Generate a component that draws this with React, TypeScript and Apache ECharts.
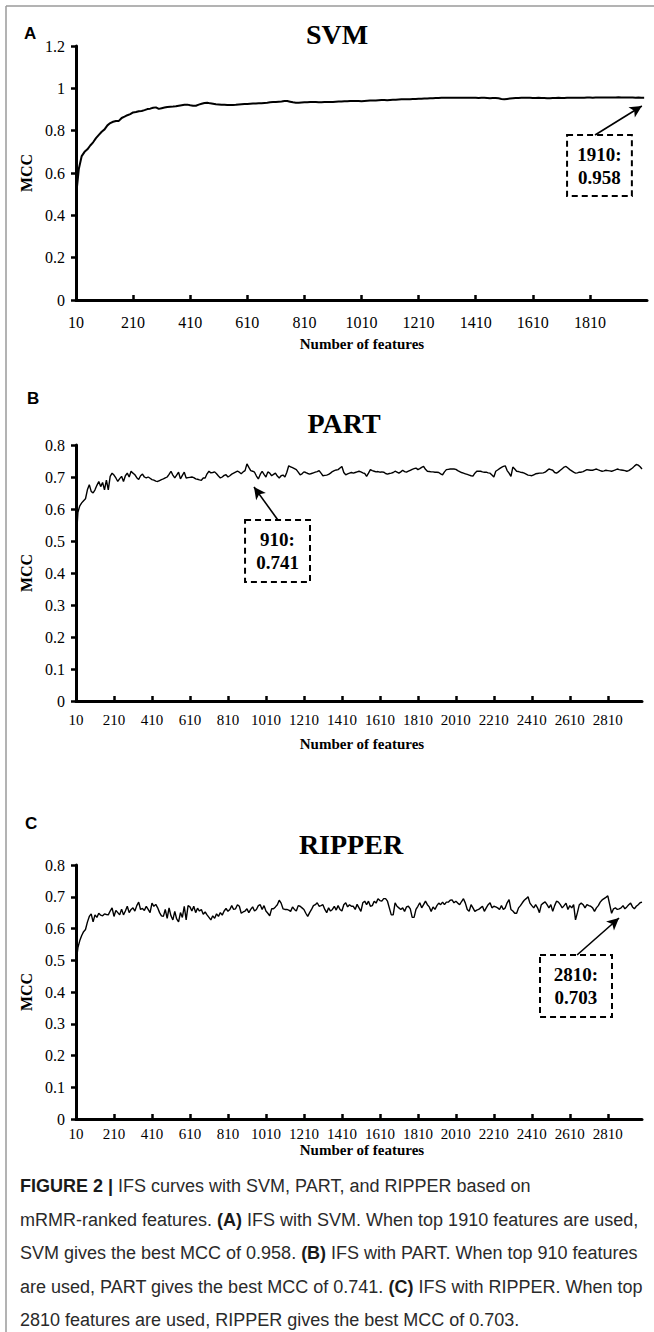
import React, { useEffect, useRef } from "react";
import * as echarts from "echarts";

// ---- Data ----
// MCC for SVM, feature counts 10, 20, ..., 2000
const svmMCC = [
  0.49, 0.62, 0.68, 0.70, 0.712, 0.73, 0.745, 0.765, 0.78, 0.795,
  0.806, 0.825, 0.836, 0.842, 0.846, 0.846, 0.86, 0.866, 0.873, 0.878,
  0.886, 0.888, 0.892, 0.893, 0.897, 0.902, 0.904, 0.908, 0.91, 0.903,
  0.906, 0.909, 0.912, 0.913, 0.914, 0.915, 0.918, 0.92, 0.922, 0.923,
  0.92, 0.918, 0.918, 0.923, 0.927, 0.931, 0.932, 0.929, 0.927, 0.925,
  0.924, 0.923, 0.922, 0.921, 0.921, 0.921, 0.922, 0.924, 0.925, 0.926,
  0.926, 0.927, 0.928, 0.928, 0.929, 0.93, 0.931, 0.932, 0.934, 0.935,
  0.936, 0.937, 0.938, 0.94, 0.94, 0.937, 0.934, 0.932, 0.932, 0.933,
  0.934, 0.934, 0.935, 0.935, 0.935, 0.934, 0.934, 0.935, 0.935, 0.935,
  0.936, 0.937, 0.938, 0.938, 0.939, 0.939, 0.94, 0.94, 0.94, 0.94,
  0.939, 0.94, 0.941, 0.942, 0.942, 0.943, 0.944, 0.945, 0.945, 0.944,
  0.945, 0.946, 0.946, 0.947, 0.948, 0.948, 0.949, 0.949, 0.95, 0.95,
  0.951, 0.951, 0.952, 0.952, 0.953, 0.953, 0.954, 0.954, 0.955, 0.955,
  0.955, 0.956, 0.956, 0.956, 0.955, 0.956, 0.955, 0.956, 0.956, 0.955,
  0.955, 0.954, 0.955, 0.955, 0.954, 0.953, 0.954, 0.954, 0.953, 0.95,
  0.948, 0.95, 0.952, 0.953, 0.954, 0.954, 0.955, 0.955, 0.955, 0.955,
  0.954, 0.954, 0.955, 0.954, 0.954, 0.953, 0.953, 0.954, 0.954, 0.955,
  0.954, 0.954, 0.955, 0.955, 0.956, 0.955, 0.955, 0.956, 0.956, 0.957,
  0.957, 0.956, 0.957, 0.957, 0.957, 0.957, 0.957, 0.957, 0.957, 0.957,
  0.958, 0.957, 0.957, 0.957, 0.957, 0.957, 0.956, 0.957, 0.956, 0.956,
];

// MCC for PART, feature counts 10, 20, ..., 2990
const partMCC = [
  0.49, 0.59, 0.61, 0.619, 0.626, 0.632, 0.66, 0.676, 0.655, 0.65,
  0.66, 0.674, 0.686, 0.67, 0.683, 0.66, 0.69, 0.66, 0.702, 0.712,
  0.706, 0.697, 0.686, 0.695, 0.702, 0.686, 0.704, 0.712, 0.70, 0.718,
  0.712, 0.707, 0.698, 0.692, 0.704, 0.709, 0.70, 0.697, 0.70, 0.696,
  0.692, 0.69, 0.687, 0.686, 0.689, 0.692, 0.694, 0.697, 0.70, 0.708,
  0.718, 0.706, 0.697, 0.706, 0.715, 0.694, 0.705, 0.715, 0.697, 0.698,
  0.699, 0.70, 0.698, 0.694, 0.693, 0.691, 0.69, 0.697, 0.697, 0.71,
  0.718, 0.713, 0.714, 0.716, 0.71, 0.703, 0.697, 0.70, 0.705, 0.707,
  0.70, 0.704, 0.709, 0.712, 0.715, 0.718, 0.715, 0.71, 0.716, 0.72,
  0.741, 0.73, 0.72, 0.718, 0.715, 0.703, 0.694, 0.708, 0.718, 0.708,
  0.70, 0.716, 0.712, 0.704, 0.708, 0.712, 0.703, 0.697, 0.704, 0.706,
  0.70, 0.715, 0.735, 0.732, 0.729, 0.726, 0.723, 0.715, 0.707, 0.71,
  0.716, 0.714, 0.711, 0.709, 0.711, 0.713, 0.715, 0.717, 0.72, 0.712,
  0.704, 0.705, 0.706, 0.708, 0.712, 0.717, 0.72, 0.722, 0.723, 0.728,
  0.733, 0.714, 0.707, 0.71, 0.712, 0.714, 0.712, 0.714, 0.716, 0.718,
  0.716, 0.713, 0.711, 0.702, 0.712, 0.723, 0.72, 0.718, 0.716, 0.717,
  0.715, 0.716, 0.715, 0.711, 0.709, 0.711, 0.712, 0.714, 0.718, 0.715,
  0.712, 0.716, 0.721, 0.717, 0.715, 0.718, 0.721, 0.724, 0.726, 0.728,
  0.723, 0.726, 0.73, 0.733, 0.724, 0.718, 0.717, 0.716, 0.716, 0.715,
  0.715, 0.714, 0.71, 0.707, 0.716, 0.723, 0.724, 0.725, 0.725, 0.725,
  0.724, 0.72, 0.717, 0.714, 0.712, 0.71, 0.708, 0.706, 0.704, 0.703,
  0.712, 0.718, 0.718, 0.718, 0.716, 0.715, 0.715, 0.713, 0.712, 0.706,
  0.70, 0.718, 0.722, 0.726, 0.73, 0.733, 0.735, 0.72, 0.712, 0.702,
  0.731, 0.725, 0.718, 0.717, 0.715, 0.714, 0.712, 0.709, 0.706, 0.705,
  0.704, 0.707, 0.71, 0.711, 0.712, 0.712, 0.713, 0.715, 0.72, 0.725,
  0.723, 0.721, 0.714, 0.712, 0.716, 0.721, 0.726, 0.731, 0.733, 0.728,
  0.723, 0.719, 0.715, 0.712, 0.713, 0.715, 0.715, 0.717, 0.72, 0.723,
  0.722, 0.721, 0.721, 0.723, 0.725, 0.722, 0.72, 0.718, 0.719, 0.721,
  0.72, 0.719, 0.718, 0.72, 0.722, 0.725, 0.723, 0.722, 0.721, 0.72,
  0.718, 0.72, 0.724, 0.728, 0.734, 0.739, 0.737, 0.732, 0.725,
];

// MCC for RIPPER, feature counts 10, 20, ..., 2990
const ripperMCC = [
  0.49, 0.54, 0.562, 0.578, 0.59, 0.597, 0.62, 0.638, 0.646, 0.621,
  0.643, 0.635, 0.648, 0.642, 0.64, 0.646, 0.644, 0.643, 0.655, 0.665,
  0.638, 0.657, 0.65, 0.643, 0.661, 0.643, 0.655, 0.67, 0.65, 0.66,
  0.665, 0.655, 0.672, 0.683, 0.66, 0.663, 0.657, 0.67, 0.66, 0.65,
  0.68, 0.67, 0.676, 0.665, 0.65, 0.64, 0.638, 0.66, 0.632, 0.665,
  0.64, 0.627, 0.654, 0.63, 0.621, 0.65, 0.635, 0.67, 0.627, 0.672,
  0.668, 0.655, 0.67, 0.65, 0.664, 0.655, 0.66, 0.645, 0.652, 0.643,
  0.635, 0.627, 0.64, 0.632, 0.646, 0.638, 0.65, 0.642, 0.655, 0.663,
  0.654, 0.66, 0.672, 0.66, 0.662, 0.675, 0.67, 0.648, 0.652, 0.655,
  0.662, 0.65, 0.66, 0.668, 0.655, 0.66, 0.672, 0.675, 0.66, 0.672,
  0.655, 0.648, 0.64, 0.662, 0.662, 0.668, 0.675, 0.689, 0.68, 0.662,
  0.66, 0.66, 0.658, 0.654, 0.668, 0.66, 0.655, 0.672, 0.67, 0.665,
  0.66, 0.648, 0.638, 0.65, 0.66, 0.672, 0.675, 0.681, 0.67, 0.672,
  0.675, 0.66, 0.65, 0.665, 0.655, 0.66, 0.67, 0.658, 0.672, 0.66,
  0.655, 0.675, 0.681, 0.668, 0.675, 0.67, 0.67, 0.66, 0.676, 0.665,
  0.654, 0.681, 0.686, 0.675, 0.686, 0.67, 0.672, 0.686, 0.68, 0.694,
  0.688, 0.686, 0.694, 0.694, 0.686, 0.664, 0.643, 0.643, 0.681, 0.67,
  0.665, 0.66, 0.665, 0.654, 0.668, 0.67, 0.662, 0.635, 0.635, 0.66,
  0.67, 0.681, 0.665, 0.675, 0.686, 0.675, 0.668, 0.654, 0.668, 0.66,
  0.672, 0.68, 0.675, 0.683, 0.675, 0.683, 0.683, 0.689, 0.69, 0.681,
  0.686, 0.68, 0.675, 0.685, 0.694, 0.68, 0.66, 0.654, 0.675, 0.665,
  0.654, 0.658, 0.66, 0.665, 0.67, 0.654, 0.665, 0.675, 0.681, 0.665,
  0.67, 0.668, 0.665, 0.66, 0.672, 0.66, 0.665, 0.681, 0.691, 0.66,
  0.655, 0.648, 0.648, 0.665, 0.672, 0.681, 0.689, 0.694, 0.70, 0.68,
  0.672, 0.665, 0.675, 0.665, 0.65, 0.675, 0.68, 0.684, 0.675, 0.665,
  0.675, 0.654, 0.672, 0.686, 0.683, 0.675, 0.665, 0.672, 0.68, 0.66,
  0.672, 0.665, 0.675, 0.627, 0.65, 0.675, 0.68, 0.675, 0.665, 0.675,
  0.672, 0.67, 0.665, 0.654, 0.665, 0.672, 0.683, 0.69, 0.694, 0.698,
  0.703, 0.675, 0.648, 0.662, 0.665, 0.66, 0.662, 0.665, 0.672, 0.662,
  0.668, 0.675, 0.68, 0.668, 0.662, 0.67, 0.675, 0.681, 0.683,
];

// Feature counts: step of 10 starting at 10
const featureStep = 10;
const featureStart = 10;
const svmFeatures = svmMCC.map((_, i) => featureStart + featureStep * i);
const partFeatures = partMCC.map((_, i) => featureStart + featureStep * i);
const ripperFeatures = ripperMCC.map((_, i) => featureStart + featureStep * i);

const panelTitles = ["SVM", "PART", "RIPPER"];
const panelLetters = ["A", "B", "C"];
const bestLabels = ["1910:\n0.958", "910:\n0.741", "2810:\n0.703"];

const captionLines = [
  "{b|FIGURE 2 |} IFS curves with SVM, PART, and RIPPER based on",
  "mRMR-ranked features. {b|(A)} IFS with SVM. When top 1910 features are used,",
  "SVM gives the best MCC of 0.958. {b|(B)} IFS with PART. When top 910 features",
  "are used, PART gives the best MCC of 0.741. {b|(C)} IFS with RIPPER. When top",
  "2810 features are used, RIPPER gives the best MCC of 0.703.",
];

const SERIF = "'Liberation Serif', 'Times New Roman', serif";
const SANS = "'Liberation Sans', Arial, Helvetica, sans-serif";

export default function App() {
  const ref = useRef<HTMLDivElement>(null);

  useEffect(() => {
    if (!ref.current) return;
    const chart = echarts.init(ref.current, undefined, { renderer: "svg" });

    const grids = [
      { left: 76, top: 46, width: 571, height: 254 },
      { left: 76, top: 445, width: 566, height: 256 },
      { left: 76, top: 865, width: 566, height: 254 },
    ];
    const xMax = [2010, 2990, 2990];
    const yMax = [1.2, 0.8, 0.8];
    const yInt = [0.2, 0.1, 0.1];
    const xLabelMargin = [14, 11, 7];
    const xLabelSize = [16, 15, 15];
    const lineWidths = [2, 1.4, 1.4];

    const seriesData = [
      svmFeatures.map((f, i) => [f, svmMCC[i]]),
      partFeatures.map((f, i) => [f, partMCC[i]]),
      ripperFeatures.map((f, i) => [f, ripperMCC[i]]),
    ];

    // annotation anchors in data coordinates: box [x1,y1,x2,y2], arrow [tailX, tailY, tipX, tipY]
    const boxes = [
      [1730, 0.7795, 1957, 0.491],
      [900, 0.5656, 1242, 0.372],
      [2453, 0.5165, 2832, 0.321],
    ];
    const arrows = [
      [1828, 0.7795, 1992, 0.9165],
      [1073, 0.5656, 947, 0.669],
      [2648, 0.5165, 2869, 0.633],
    ];

    const xAxis = grids.map((_, i) => ({
      gridIndex: i,
      type: "value",
      min: 10,
      max: xMax[i],
      interval: 200,
      axisLine: { show: true, onZero: false, lineStyle: { color: "#000", width: 3 } },
      axisTick: { show: true, inside: true, length: 5, lineStyle: { color: "#000", width: 2.5 } },
      axisLabel: {
        color: "#000",
        fontFamily: SERIF,
        fontSize: xLabelSize[i],
        margin: xLabelMargin[i],
        showMaxLabel: false,
        formatter: (v: number) => String(v),
      },
      splitLine: { show: false },
    }));

    const yAxis = grids.map((_, i) => ({
      gridIndex: i,
      type: "value",
      min: 0,
      max: yMax[i],
      interval: yInt[i],
      axisLine: { show: true, lineStyle: { color: "#000", width: 3 } },
      axisTick: { show: true, inside: false, length: 5, lineStyle: { color: "#000", width: 2.5 } },
      axisLabel: {
        color: "#000",
        fontFamily: SERIF,
        fontSize: 16,
        margin: 11,
        formatter: (v: number) => String(Math.round(v * 10) / 10),
      },
      splitLine: { show: false },
    }));

    const series = grids.map((_, i) => ({
      type: "line",
      xAxisIndex: i,
      yAxisIndex: i,
      data: seriesData[i],
      showSymbol: false,
      symbol: "none",
      silent: true,
      lineStyle: { color: "#000", width: lineWidths[i] },
      markArea: {
        silent: true,
        itemStyle: {
          color: "rgba(0,0,0,0)",
          borderColor: "#000",
          borderWidth: 2,
          borderType: [6, 4],
        },
        label: {
          show: true,
          position: "inside",
          formatter: bestLabels[i],
          color: "#000",
          fontFamily: SERIF,
          fontWeight: "bold",
          fontSize: 19,
          lineHeight: 23,
        },
        data: [
          [
            { coord: [boxes[i][0], boxes[i][1]] },
            { coord: [boxes[i][2], boxes[i][3]] },
          ],
        ],
      },
      markLine: {
        silent: true,
        symbol: ["none", "arrow"],
        symbolSize: [9, 12],
        label: { show: false },
        lineStyle: { color: "#000", width: 1.6, type: "solid" },
        data: [
          [
            { coord: [arrows[i][0], arrows[i][1]] },
            { coord: [arrows[i][2], arrows[i][3]] },
          ],
        ],
      },
    }));

    const titlePos = [
      [337, 34],
      [344, 423],
      [351, 844],
    ];
    const letterPos = [
      [24, 33],
      [27, 398],
      [25, 823],
    ];
    const mccY = [173, 573, 992];
    const nofY = [344, 744, 1150];
    const captionY = [1186, 1220, 1253, 1287, 1320];

    const text = (x: number, y: number, t: string, font: string, align = "center", extra: any = {}) => ({
      type: "text",
      x,
      y,
      silent: true,
      ...extra,
      style: {
        text: t,
        font,
        fill: "#000",
        textAlign: align,
        textVerticalAlign: "middle",
        align,
        verticalAlign: "middle",
      },
    });

    const graphic: any[] = [];
    // frame lines
    graphic.push({
      type: "line",
      silent: true,
      shape: { x1: 6, y1: 6, x2: 654, y2: 6 },
      style: { stroke: "#9a9a9a", lineWidth: 1.5 },
    });
    graphic.push({
      type: "line",
      silent: true,
      shape: { x1: 6, y1: 6, x2: 6, y2: 1332 },
      style: { stroke: "#9a9a9a", lineWidth: 1.5 },
    });
    for (let i = 0; i < 3; i++) {
      graphic.push(text(titlePos[i][0], titlePos[i][1], panelTitles[i], `bold 28px ${SERIF}`));
      graphic.push(text(letterPos[i][0], letterPos[i][1], panelLetters[i], `bold 17px ${SANS}`, "left"));
      graphic.push(text(26, mccY[i], "MCC", `bold 16px ${SERIF}`, "center", { rotation: Math.PI / 2 }));
      graphic.push(text(362, nofY[i], "Number of features", `bold 15px ${SERIF}`));
    }
    captionLines.forEach((line, k) => {
      graphic.push({
        type: "text",
        x: 20,
        y: captionY[k],
        silent: true,
        style: {
          text: line,
          font: `18px ${SANS}`,
          fill: "#2a2a2a",
          textAlign: "left",
          textVerticalAlign: "middle",
          align: "left",
          verticalAlign: "middle",
          rich: {
            b: {
              fontFamily: SANS,
              fontSize: 18,
              fontWeight: "bold",
              fill: "#1a1a1a",
              color: "#1a1a1a",
            },
          },
        },
      });
    });

    chart.setOption({
      animation: false,
      backgroundColor: "#fff",
      grid: grids,
      xAxis,
      yAxis,
      series,
      graphic,
    });

    return () => chart.dispose();
  }, []);

  return (
    <div
      ref={ref}
      style={{ position: "absolute", left: 0, top: 0, width: 654, height: 1332 }}
    />
  );
}
